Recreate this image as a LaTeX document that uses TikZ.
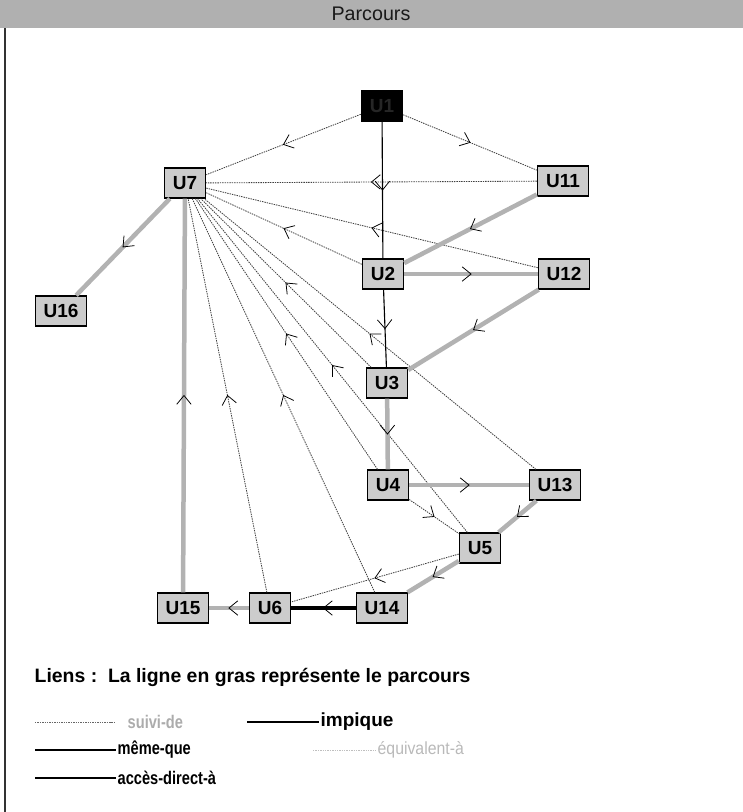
\documentclass[tikz,border=0pt]{standalone}
\usepackage{fontspec}
\setmainfont{Liberation Sans}
\usetikzlibrary{positioning,decorations.markings}

\begin{document}
\begin{tikzpicture}[
    x=0.025cm,y=-0.025cm,
    unite/.style    = {rectangle,draw=black,line width=1.2pt,fill=gray!40,
                       font=\bfseries\fontsize{13.5}{15}\selectfont,
                       minimum width=1.02cm,minimum height=0.74cm,inner sep=1pt},
    large/.style    = {minimum width=1.27cm},
    depart/.style   = {unite,fill=black,text=black!85},
    fleche/.style   = {postaction={decorate,decoration={markings,
                       mark=at position .5 with {\draw[solid,black,line width=.55pt]
                       (-2.2mm,-1.8mm) -- (0,0) -- (-2.2mm,1.8mm);}}}},
    suivi/.style    = {fleche,draw=black!75,line width=.6pt,dash pattern=on 1pt off .7pt},
    implique/.style = {fleche,draw=black,line width=.8pt},
    parcours/.style = {fleche,draw=gray!60,line width=3.2pt},
    parcnoir/.style = {fleche,draw=black,line width=2.4pt},
    leg/.style      = {anchor=west,inner sep=1pt,
                       font=\bfseries\fontsize{13}{15}\selectfont\addfontfeature{FakeStretch=0.8}},
  ]
  \useasboundingbox (0,0) rectangle (743,812);

  % ── Cadre ───────────────────────────────────────────────────────────────
  \fill[gray!62] (0,0) rectangle (743,28);
  \node[font=\fontsize{14}{16}\selectfont,text=black!90] (titre) at (371,14) {Parcours};
  \draw[black!80,line width=1.5pt] (5,28) -- (5,812);

  % ── Unités ──────────────────────────────────────────────────────────────
  \node[depart]      (u1)  at (382,106) {U1};
  \node[unite]       (u7)  at (185,183) {U7};
  \node[unite,large] (u11) at (563,181) {U11};
  \node[unite]       (u2)  at (383,274) {U2};
  \node[unite,large] (u12) at (564,274) {U12};
  \node[unite,large] (u16) at (61,311)  {U16};
  \node[unite]       (u3)  at (387,383) {U3};
  \node[unite]       (u4)  at (388,485) {U4};
  \node[unite,large] (u13) at (555,485) {U13};
  \node[unite]       (u5)  at (480,548) {U5};
  \node[unite,large] (u15) at (183,608) {U15};
  \node[unite]       (u6)  at (270,608) {U6};
  \node[unite,large] (u14) at (382,608) {U14};

  % ── Liens ───────────────────────────────────────────────────────────────
  \draw[suivi] (u1) -- (u7);
  \draw[suivi] (u1) -- (u11);
  \draw[suivi] (u11) -- (u7);
  \draw[suivi] (u12) -- (u7);
  \draw[suivi] (u2) -- (u7);
  \draw[suivi] (u3) -- (u7);
  \draw[suivi] (u13) -- (u7);
  \draw[suivi] (u5) -- (u7);
  \draw[suivi] (u4) -- (u7);
  \draw[suivi] (u14) -- (u7);
  \draw[suivi] (u6) -- (u7);
  \draw[suivi] (u4) -- (u5);
  \draw[suivi] (u5) -- (u6);
  \draw[implique] (u1) -- (u2);
  \draw[implique] (u2) -- (u3);

  % ── Parcours (en gras) ──────────────────────────────────────────────────
  \draw[parcours] (u11) -- (u2);
  \draw[parcours] (u2) -- (u12);
  \draw[parcours] (u12) -- (u3);
  \draw[parcours] (u3) -- (u4);
  \draw[parcours] (u4) -- (u13);
  \draw[parcours] (u13) -- (u5);
  \draw[parcours] (u5) -- (u14);
  \draw[parcnoir] (u14) -- (u6);
  \draw[parcours,line width=2.4pt] (u6) -- (u15);
  \draw[parcours] (u15) -- (u7);
  \draw[parcours] (u7) -- (u16);

  % ── Légende ─────────────────────────────────────────────────────────────
  \node[leg,font=\bfseries\fontsize{13.8}{16}\selectfont] (liens) at (33,677)
       {Liens :\ \ La ligne en gras représente le parcours};
  \node[leg,text=gray!65]  (lsuivi) at (126,722) {suivi-de};
  \node[leg,font=\bfseries\fontsize{13.5}{15}\selectfont]
                           (limpl)  at (319,722) {impique};
  \node[leg]               (lmeme)  at (116,750) {même-que};
  \node[leg,font=\fontsize{12.5}{14}\selectfont\addfontfeature{FakeStretch=0.9},text=gray!55]
                           (lequiv) at (376,750) {équivalent-à};
  \node[leg]               (lacces) at (116,778) {accès-direct-à};
  \coordinate (a1) at (35,722);
  \coordinate (a2) at (247,722);
  \coordinate (a3) at (35,750);
  \coordinate (a4) at (313,750);
  \coordinate (a5) at (35,778);
  \draw[black!60,line width=.6pt,dash pattern=on 1pt off .7pt] (a1) -- ([xshift=-0.3cm]lsuivi.west);
  \draw[black,line width=.8pt] (a2) -- (limpl.west);
  \draw[black,line width=.8pt] (a3) -- (lmeme.west);
  \draw[gray!50,line width=.6pt,dash pattern=on 1pt off .7pt] (a4) -- (lequiv.west);
  \draw[black,line width=1.2pt] (a5) -- (lacces.west);

\end{tikzpicture}
\end{document}
